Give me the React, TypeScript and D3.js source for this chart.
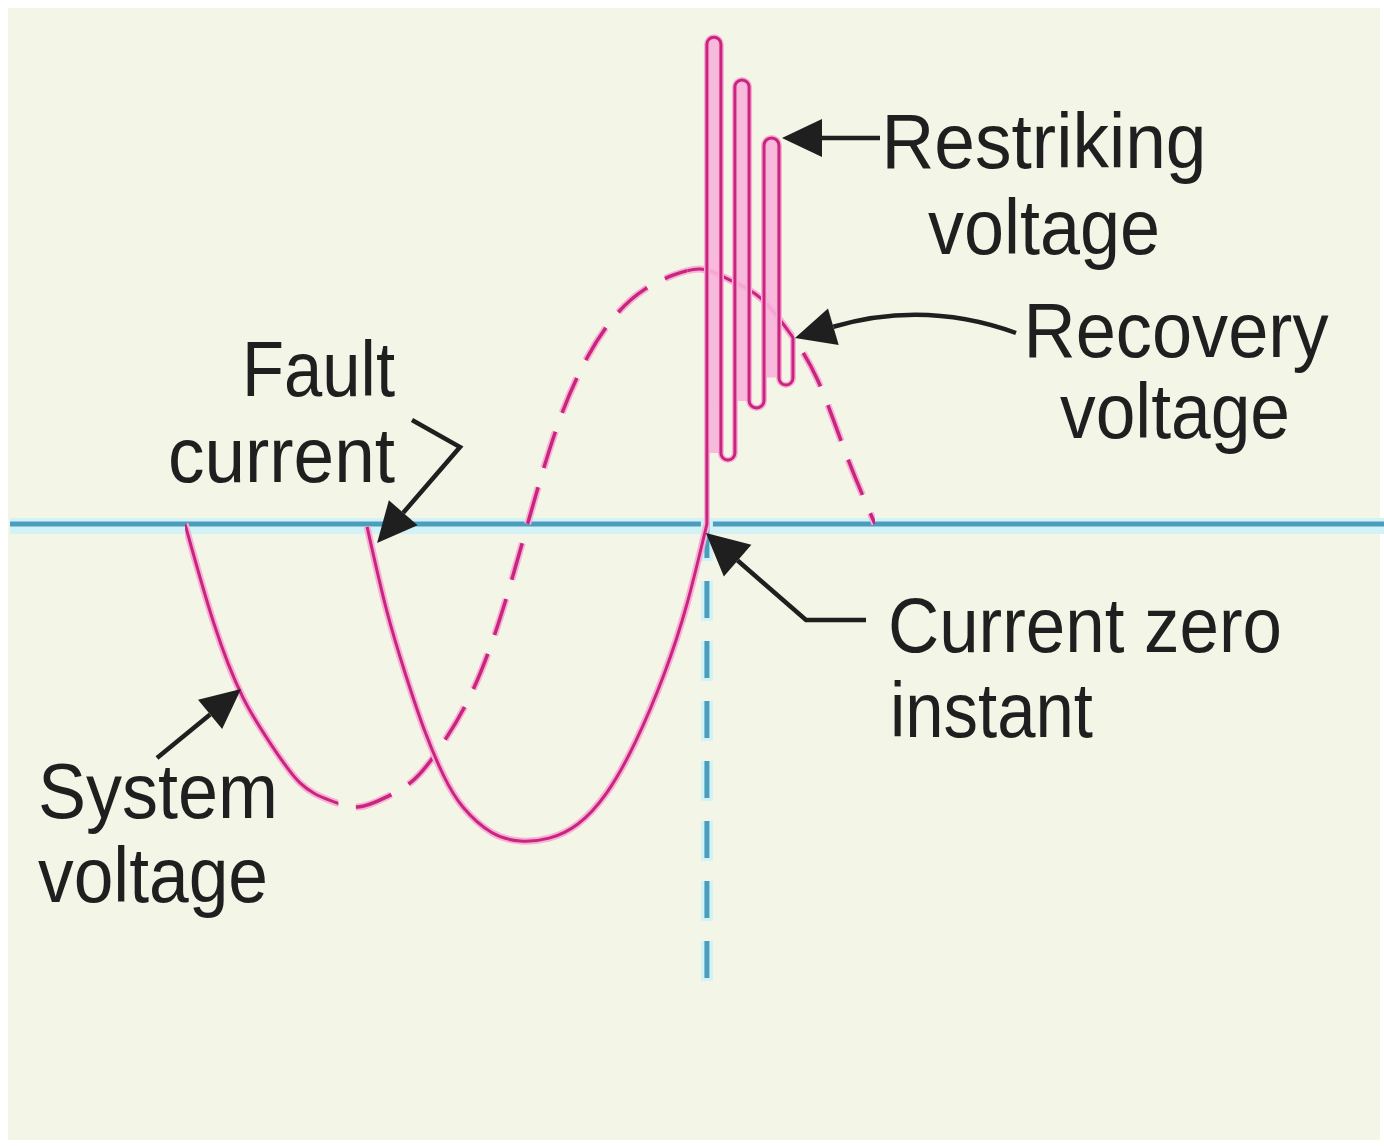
import * as d3 from "d3";

const W = 1384;
const H = 1146;

// system voltage, electrical angle (deg) from its zero crossing, per-unit
const sysDeg = [0, 15, 30, 45, 60, 75, 90, 105, 120, 135, 150, 165, 180, 195, 210, 225, 240, 255, 270, 285, 300, 315, 330, 345, 360];
const sysV = [0, -0.35, -0.61, -0.78, -0.915, -0.975, -1.0, -0.965, -0.9, -0.77, -0.59, -0.32, 0.03, 0.36, 0.59, 0.74, 0.83, 0.88, 0.9, 0.86, 0.8, 0.68, 0.51, 0.245, 0];

// fault current, same angle axis
const faultDeg = [95, 105, 115, 125, 135, 145, 160, 175, 190, 205, 220, 235, 250, 262, 272.3];
const faultI = [-0.01, -0.3, -0.53, -0.73, -0.89, -1.0, -1.09, -1.12, -1.11, -1.06, -0.95, -0.77, -0.53, -0.28, 0];

// restriking oscillation after current zero: line positions and turning values
const spikeDeg = [272.3, 279.6, 286.9, 294.3, 302.1, 309.9, 317.2];
const spikeTurns = [1.72, 0.226, 1.569, 0.41, 1.364, 0.491];
const recoveryEnd = 0.657;

// which parts of the system voltage are drawn solid / dashed (deg)
const sysSolid = [[0, 80], [262, 318]];
const sysDashed = [[80, 262], [318, 360]];

const restrikingLabel = ["Restriking", "voltage"];
const recoveryLabel = ["Recovery", "voltage"];
const faultLabel = ["Fault", "current"];
const zeroLabel = ["Current zero", "instant"];
const systemLabel = ["System", "voltage"];

const x = d3.scaleLinear().domain([0, 360]).range([185, 875]);
const y = d3.scaleLinear().domain([-1, 1]).range([807, 241]);

const MAG = "#c8257e";
const MAG_GLOW = "#f7b0d6";
const INK = "#1f1f1f";
const BLUE = "#4a9dbd";
const BLUE_GLOW = "#d2f2f5";

function head(tip: number[], from: number[], len = 40, hw = 19) {
  const dx = tip[0] - from[0];
  const dy = tip[1] - from[1];
  const L = Math.hypot(dx, dy);
  const ux = dx / L;
  const uy = dy / L;
  const bx = tip[0] - ux * len;
  const by = tip[1] - uy * len;
  return {
    d: `M${tip[0]},${tip[1]}L${bx - uy * hw},${by + ux * hw}L${bx + uy * hw},${by - ux * hw}Z`,
    base: [bx, by],
  };
}

const App = () => {
  const sysLine = d3
    .line<number>()
    .x((d, i) => x(sysDeg[i]))
    .y((d) => y(d))
    .curve(d3.curveNatural);
  const faultLine = d3
    .line<number>()
    .x((d, i) => x(faultDeg[i]))
    .y((d) => y(d))
    .curve(d3.curveNatural);
  const sysPath = sysLine(sysV) || "";
  const faultPath = faultLine(faultI) || "";

  // restriking hairpins
  const sp = d3.path();
  sp.moveTo(x(spikeDeg[0]), y(0));
  const fills: string[] = [];
  spikeTurns.forEach((v, i) => {
    const xa = x(spikeDeg[i]);
    const xb = x(spikeDeg[i + 1]);
    const r = (xb - xa) / 2;
    const cx = (xa + xb) / 2;
    if (i % 2 === 0) {
      sp.lineTo(xa, y(v) + r);
      sp.arc(cx, y(v) + r, r, Math.PI, 2 * Math.PI, false);
      const f = d3.path();
      const yb = y(spikeTurns[i + 1]) - r;
      f.moveTo(xa, yb);
      f.lineTo(xa, y(v) + r);
      f.arc(cx, y(v) + r, r, Math.PI, 2 * Math.PI, false);
      f.lineTo(xb, yb);
      f.closePath();
      fills.push(f.toString());
    } else {
      sp.lineTo(xa, y(v) - r);
      sp.arc(cx, y(v) - r, r, Math.PI, 0, true);
    }
  });
  sp.lineTo(x(spikeDeg[6]), y(recoveryEnd));
  const spikePath = sp.toString();

  // annotation arrows
  const rTip = [x(spikeDeg[5]) + 3, y(spikeTurns[4])];
  const rHead = head(rTip, [880, rTip[1]]);
  const recTip = [x(spikeDeg[6]) + 2, y(recoveryEnd)];
  const recHead = head(recTip, [836, 326]);
  const fTip = [x(faultDeg[0]) + 10, y(0) + 19];
  const fHead = head(fTip, [460, 447]);
  const zTip = [x(spikeDeg[0]) - 1, y(0) + 9];
  const zHead = head(zTip, [806, 620], 42, 21);
  const sTip = [241, 689];
  const sHead = head(sTip, [157, 758]);

  const label = (lines: string[], xs: number[], ys: number[], lens: number[], anchor: string) =>
    lines.map((t, i) => (
      <text
        key={t + i}
        x={xs[i]}
        y={ys[i]}
        textAnchor={anchor}
        textLength={lens[i]}
        lengthAdjust="spacingAndGlyphs"
      >
        {t}
      </text>
    ));

  return (
    <div>
      <style>{"body{margin:0}"}</style>
      <svg width={W} height={H} style={{ display: "block" }}>
        <defs>
          {sysSolid.map((s, i) => (
            <clipPath id={"solid" + i} key={"cs" + i}>
              <rect x={x(s[0])} y={0} width={x(s[1]) - x(s[0])} height={H} />
            </clipPath>
          ))}
          {sysDashed.map((s, i) => (
            <clipPath id={"dash" + i} key={"cd" + i}>
              <rect x={x(s[0])} y={0} width={x(s[1]) - x(s[0])} height={H} />
            </clipPath>
          ))}
        </defs>
        <rect x={0} y={0} width={W} height={H} fill="#ffffff" />
        <rect x={8} y={8} width={W - 12} height={H - 14} fill="#f3f6e6" />

        {/* zero axis */}
        <line x1={10} x2={W} y1={y(0) + 2} y2={y(0) + 2} stroke={BLUE_GLOW} strokeWidth={16} />
        <line x1={10} x2={W} y1={y(0)} y2={y(0)} stroke={BLUE} strokeWidth={5} />
        {/* current zero marker */}
        <line
          x1={x(spikeDeg[0])}
          x2={x(spikeDeg[0])}
          y1={y(0) - 3}
          y2={985}
          stroke={BLUE_GLOW}
          strokeWidth={12}
          strokeDasharray="40 20"
        />
        <line
          x1={x(spikeDeg[0])}
          x2={x(spikeDeg[0])}
          y1={y(0) - 3}
          y2={985}
          stroke={BLUE}
          strokeWidth={5}
          strokeDasharray="37 23"
        />

        {/* system voltage */}
        {sysSolid.map((s, i) => (
          <g key={"ss" + i} clipPath={`url(#solid${i})`}>
            <path d={sysPath} fill="none" stroke={MAG_GLOW} strokeWidth={7} />
            <path d={sysPath} fill="none" stroke={MAG} strokeWidth={3} />
          </g>
        ))}
        {sysDashed.map((s, i) => (
          <g key={"sd" + i} clipPath={`url(#dash${i})`}>
            <path d={sysPath} fill="none" stroke={MAG_GLOW} strokeWidth={7} strokeDasharray="38 20" />
            <path d={sysPath} fill="none" stroke={MAG} strokeWidth={3.5} strokeDasharray="38 20" />
          </g>
        ))}

        {/* fault current */}
        <path d={faultPath} fill="none" stroke={MAG_GLOW} strokeWidth={7} />
        <path d={faultPath} fill="none" stroke={MAG} strokeWidth={3} />

        {/* restriking oscillation */}
        {fills.map((d, i) => (
          <path key={"f" + i} d={d} fill="#f8b4da" opacity={0.9} />
        ))}
        <path d={spikePath} fill="none" stroke={MAG_GLOW} strokeWidth={6} />
        <path d={spikePath} fill="none" stroke={MAG} strokeWidth={3} />

        {/* arrows */}
        <g stroke={INK} strokeWidth={4.5} fill="none" strokeLinejoin="miter">
          <path d={`M880,${rTip[1]}L${rHead.base[0]},${rHead.base[1]}`} />
          <path d={`M1016,333Q925,300 ${recHead.base[0]},${recHead.base[1]}`} />
          <path d={`M412,420L460,447L${fHead.base[0]},${fHead.base[1]}`} />
          <path d={`M866,620L806,620L${zHead.base[0]},${zHead.base[1]}`} />
          <path d={`M157,758L${sHead.base[0]},${sHead.base[1]}`} />
        </g>
        <g fill={INK}>
          <path d={rHead.d} />
          <path d={recHead.d} />
          <path d={fHead.d} />
          <path d={zHead.d} />
          <path d={sHead.d} />
        </g>

        {/* labels */}
        <g fontFamily="'Liberation Sans', Arial, Helvetica, sans-serif" fontSize={77} fill={INK}>
          {label(restrikingLabel, [1044, 1044], [168, 254], [325, 232], "middle")}
          {label(recoveryLabel, [1176, 1175], [357, 438], [305, 230], "middle")}
          {label(faultLabel, [395, 395], [396, 482], [153, 227], "end")}
          {label(zeroLabel, [888, 890], [652, 737], [394, 203], "start")}
          {label(systemLabel, [38, 38], [818, 902], [240, 230], "start")}
        </g>
      </svg>
    </div>
  );
};

export default App;
